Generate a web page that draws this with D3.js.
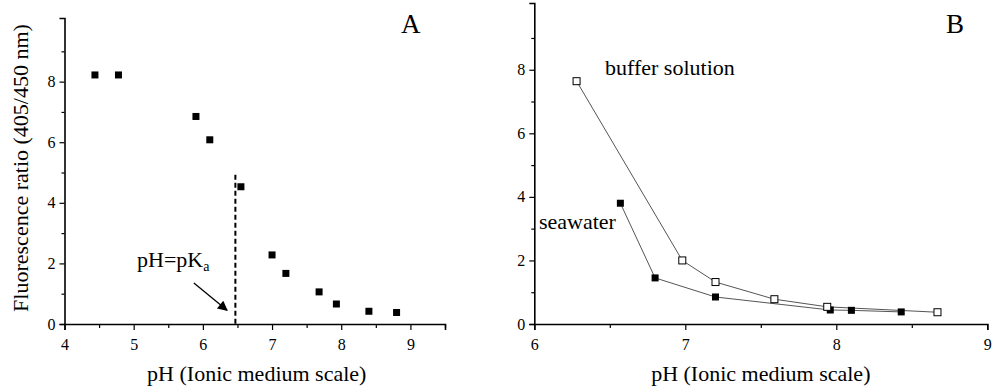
<!DOCTYPE html>
<html><head><meta charset="utf-8">
<script src="https://cdn.jsdelivr.net/npm/d3@7"></script>
<style>body{margin:0;background:#fff}svg{display:block}text{font-family:"Liberation Serif","Times New Roman",serif !important}</style>
</head><body>
<svg id="c" width="992" height="387" font-family="Liberation Serif, serif"></svg>
<script>
// Panel A data
const phA = [4.44, 4.78, 5.9, 6.1, 6.55, 7.0, 7.2, 7.68, 7.93, 8.4, 8.8];
const ratioA = [8.22, 8.22, 6.85, 6.08, 4.53, 2.28, 1.67, 1.06, 0.66, 0.42, 0.38];
const pKa = 6.47;
// Panel B data
const phBuffer = [6.28, 6.98, 7.2, 7.59, 7.94, 8.67];
const ratioBuffer = [7.64, 2.0, 1.32, 0.78, 0.54, 0.37];
const phSea = [6.57, 6.8, 7.2, 7.96, 8.1, 8.43];
const ratioSea = [3.8, 1.45, 0.85, 0.44, 0.43, 0.38];
const xTicksA = [4, 5, 6, 7, 8, 9];
const xTicksB = [6, 7, 8, 9];
const yTicks = [0, 2, 4, 6, 8];

const svg = d3.select("#c");

function panel(o) {
  const g = svg.append("g");
  const x = d3.scaleLinear().domain(o.xd).range(o.xr);
  const y = d3.scaleLinear().domain([0, 10.1]).range([324, o.yTop]);
  g.append("g").attr("transform", "translate(0,324)")
    .call(d3.axisBottom(x).tickValues(o.xt).tickSize(6).tickPadding(9).tickFormat(d3.format("d")));
  const xm = g.append("g").attr("transform", "translate(0,324)")
    .call(d3.axisBottom(x).tickValues(o.xminor).tickSize(4).tickFormat(""));
  xm.select(".domain").remove();
  g.append("g").attr("transform", `translate(${o.xr[0]},0)`)
    .call(d3.axisLeft(y).tickValues(yTicks).tickSize(5).tickPadding(4).tickFormat(d3.format("d")));
  const ym = g.append("g").attr("transform", `translate(${o.xr[0]},0)`)
    .call(d3.axisLeft(y).tickValues([1,3,5,7,9]).tickSize(3).tickFormat(""));
  ym.select(".domain").remove();
  g.selectAll("g").attr("font-family", null);
  g.selectAll(".domain").attr("stroke", "#000").attr("stroke-width", 1.6);
  g.selectAll(".tick line").attr("stroke", "#000").attr("stroke-width", 1.2);
  g.selectAll(".tick text").attr("font-size", 16).attr("fill", "#000");
  g.append("text").attr("x", (o.xr[0] + o.xr[1]) / 2 + o.titleDx).attr("y", 381)
    .attr("text-anchor", "middle").attr("font-size", 22).text("pH (Ionic medium scale)");
  g.append("text").attr("x", o.letterX).attr("y", 33).attr("font-size", 27).text(o.letter);
  return {g, x, y};
}

// Panel A
const A = panel({xd: [4, 9.5], xr: [64.5, 445], yTop: 18, xt: xTicksA,
  xminor: [4.5, 5.5, 6.5, 7.5, 8.5, 9.5], titleDx: 2, letter: "A", letterX: 401});
svg.append("text").attr("transform", "translate(28,168) rotate(-90)")
  .attr("text-anchor", "middle").attr("font-size", 22).text("Fluorescence ratio (405/450 nm)");
A.g.append("line").attr("x1", A.x(pKa)).attr("x2", A.x(pKa))
  .attr("y1", A.y(4.93)).attr("y2", A.y(0))
  .attr("stroke", "#000").attr("stroke-width", 2).attr("stroke-dasharray", "5,3");
A.g.selectAll("rect.a").data(phA).join("rect").attr("class", "a")
  .attr("x", (d) => A.x(d) - 3.5).attr("y", (d, i) => A.y(ratioA[i]) - 3.5)
  .attr("width", 7).attr("height", 7).attr("fill", "#000");
const t = A.g.append("text").attr("x", 137).attr("y", 267).attr("font-size", 22);
t.append("tspan").text("pH=pK");
t.append("tspan").attr("dy", 4).attr("font-size", 14).text("a");
svg.append("defs").append("marker").attr("id", "arr").attr("viewBox", "0 0 10 10")
  .attr("refX", 9).attr("refY", 5).attr("markerWidth", 12).attr("markerHeight", 10)
  .attr("markerUnits", "userSpaceOnUse").attr("orient", "auto")
  .append("path").attr("d", "M0,0L10,5L0,10z").attr("fill", "#000");
A.g.append("line").attr("x1", A.x(5.87)).attr("y1", A.y(1.35))
  .attr("x2", A.x(6.35)).attr("y2", A.y(0.45))
  .attr("stroke", "#000").attr("stroke-width", 1.3).attr("marker-end", "url(#arr)");

// Panel B
const B = panel({xd: [6, 9], xr: [534.3, 987.3], yTop: 3, xt: xTicksB,
  xminor: [6.5, 7.5, 8.5], titleDx: 0, letter: "B", letterX: 946});
const line = d3.line();
B.g.append("path").attr("d", line(phBuffer.map((d, i) => [B.x(d), B.y(ratioBuffer[i])])))
  .attr("fill", "none").attr("stroke", "#555").attr("stroke-width", 1);
B.g.append("path").attr("d", line(phSea.map((d, i) => [B.x(d), B.y(ratioSea[i])])))
  .attr("fill", "none").attr("stroke", "#555").attr("stroke-width", 1);
B.g.selectAll("rect.s").data(phSea).join("rect").attr("class", "s")
  .attr("x", (d) => B.x(d) - 3.5).attr("y", (d, i) => B.y(ratioSea[i]) - 3.5)
  .attr("width", 7).attr("height", 7).attr("fill", "#000");
B.g.selectAll("rect.b").data(phBuffer).join("rect").attr("class", "b")
  .attr("x", (d) => B.x(d) - 3.5).attr("y", (d, i) => B.y(ratioBuffer[i]) - 3.5)
  .attr("width", 7).attr("height", 7).attr("fill", "#fff").attr("stroke", "#000").attr("stroke-width", 1);
B.g.append("text").attr("x", 605).attr("y", 75).attr("font-size", 22).text("buffer solution");
B.g.append("text").attr("x", 539).attr("y", 229).attr("font-size", 22).text("seawater");
</script>
</body></html>
